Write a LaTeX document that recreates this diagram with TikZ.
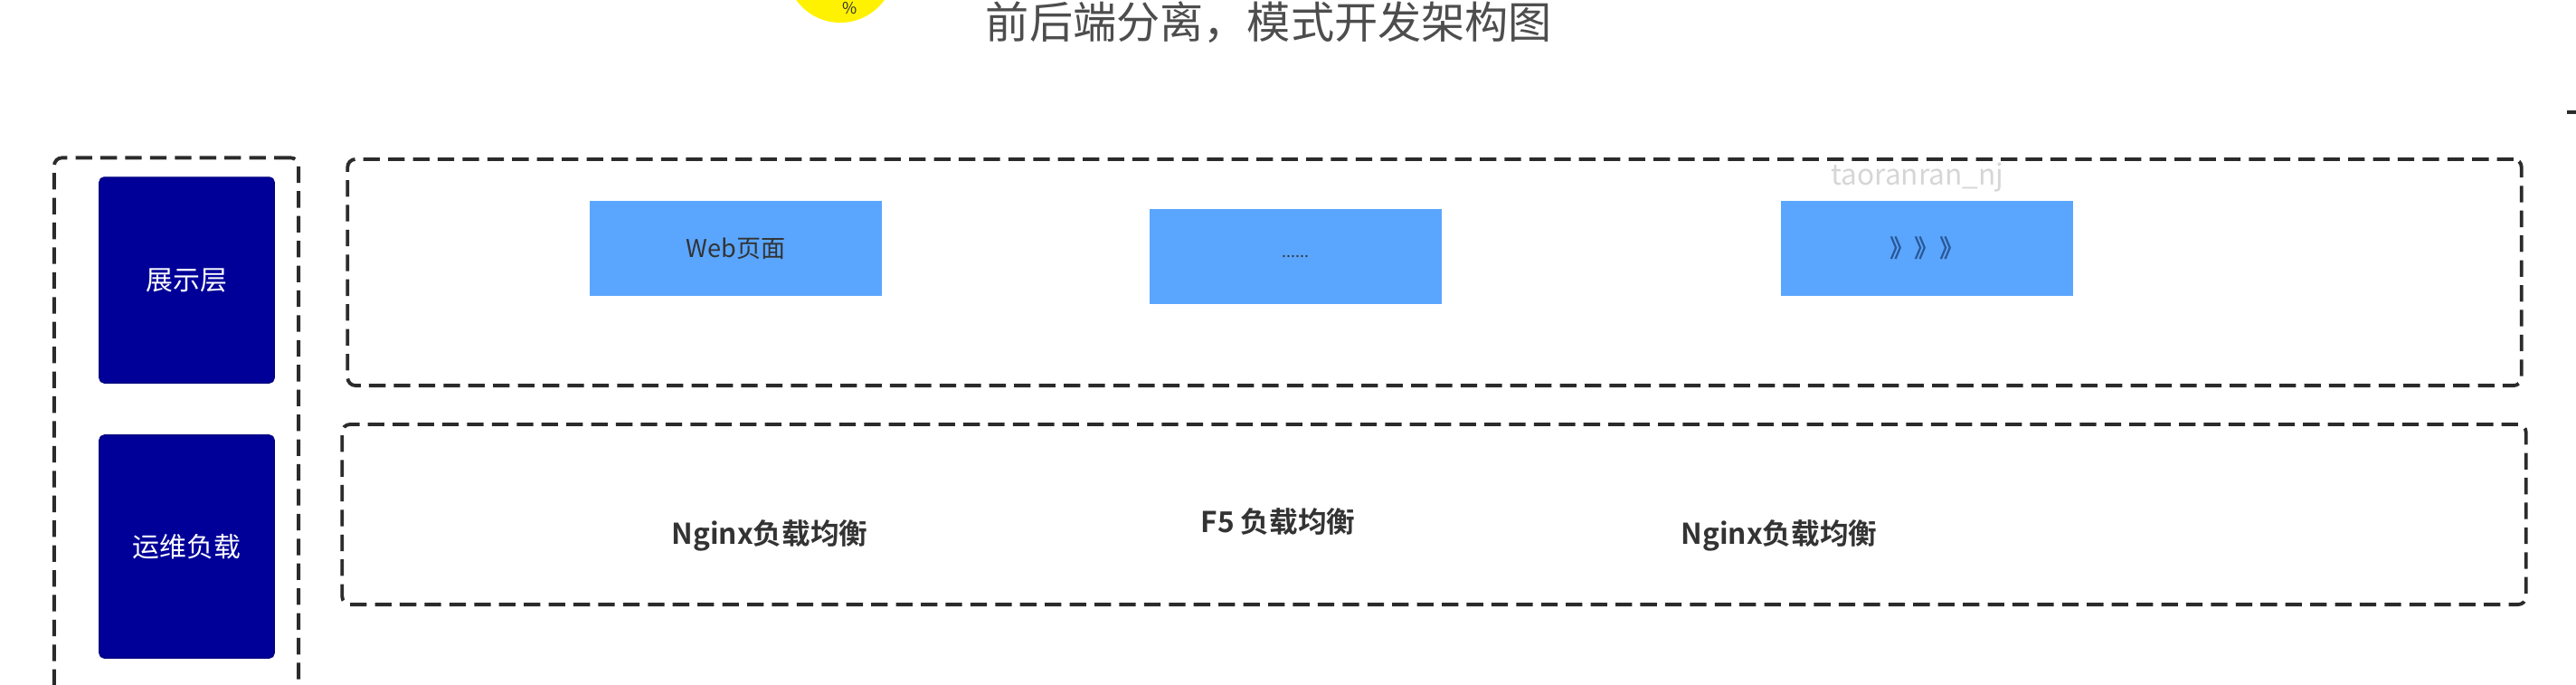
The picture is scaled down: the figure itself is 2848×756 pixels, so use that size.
\documentclass[tikz,border=0pt]{standalone}
\usepackage{fontspec}
\setmainfont{Noto Sans CJK SC}[BoldFont={Noto Sans CJK SC Bold}]
\usepackage{xcolor}
\usetikzlibrary{positioning}
\definecolor{Navy}{HTML}{000099}
\definecolor{Sky}{HTML}{5AA6FF}
\definecolor{Ink}{HTML}{333333}
\definecolor{Frame}{HTML}{2B2B2B}
\definecolor{Muted}{HTML}{4D4D4D}
\definecolor{Chevron}{HTML}{2A5896}
\definecolor{Mark}{HTML}{D6D6D6}
\definecolor{Sun}{HTML}{FFF200}

\begin{document}
\begin{tikzpicture}[x=0.01cm,y=-0.01cm,
  frame/.style={draw=Frame,line width=1.1pt,dash pattern=on 5.2pt off 2.6pt,
    rounded corners=2.5pt,inner sep=0pt},
  layer/.style={draw=Navy!85!black,fill=Navy,rounded corners=1.5pt,text=white,
    minimum width=1.93cm,inner sep=0pt,font=\fontsize{8.5pt}{10pt}\selectfont},
  page/.style={fill=Sky,minimum width=3.23cm,minimum height=1.05cm,inner sep=0pt,
    text=Ink,font=\fontsize{7.7pt}{9pt}\selectfont},
  balance/.style={text=Ink,font=\bfseries\fontsize{9pt}{11pt}\selectfont}
]
\clip (0,0) rectangle (2848,756);

% Title.
\node[circle,fill=Sun,minimum size=1.2cm,inner sep=0pt] (sun) at (929,-35) {};
\node[text=Ink,font=\fontsize{5pt}{6pt}\selectfont] (pct) at (940,9) {\%};
\node[text=Muted,font=\fontsize{13.7pt}{15pt}\selectfont] (title) at (1403,25)
  {前后端分离，模式开发架构图};
\draw[Frame,line width=1.1pt] (2838,124) -- (2848,124);

% Layer column.
\node[frame,minimum width=2.70cm,minimum height=6.45cm] (col) at (195,497) {};
\node[layer,minimum height=2.27cm] (show) at (206.5,309.5) {展示层};
\node[layer,minimum height=2.46cm] (ops) at (206.5,604) {运维负载};

% Presentation lane.
\node[frame,minimum width=24.02cm,minimum height=2.50cm] (top) at (1586,301) {};
\node[page] (web) at (813.5,274.5) {Web页面};
\node[page] (dots) at (1432.5,283.5) {\fontsize{5pt}{6pt}\selectfont ......};
\node[page,text=Chevron] (more) at (2130.5,274.5) {\bfseries 》》》};
\node[text=Mark,font=\fontsize{9pt}{10pt}\selectfont] (mark) at (2120,196)
  {taoranran\_nj};

% Load-balancing lane.
\node[frame,minimum width=24.13cm,minimum height=1.99cm] (bottom) at (1585.5,568.5) {};
\node[balance] (ngx1) at (851,592) {Nginx负载均衡};
\node[balance] (f5) at (1413,577) {F5 负载均衡};
\node[balance] (ngx2) at (1967,592) {Nginx负载均衡};
\end{tikzpicture}
\end{document}
